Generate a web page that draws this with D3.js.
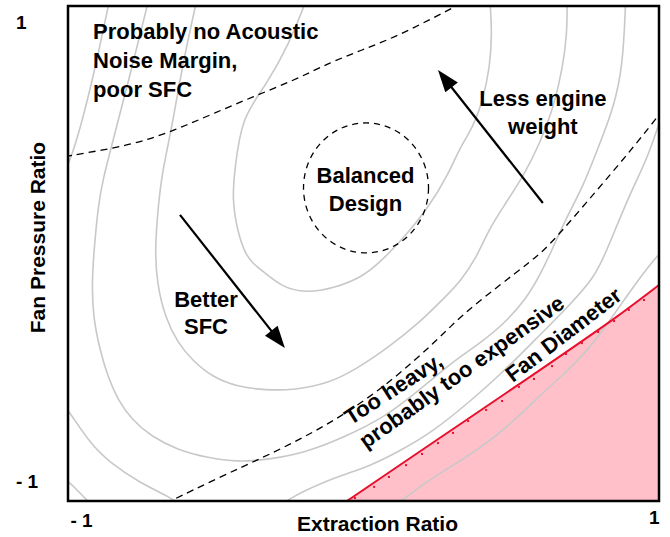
<!DOCTYPE html>
<html><head><meta charset="utf-8">
<script src="https://cdn.jsdelivr.net/npm/d3@7"></script>
<style>
body{margin:0;background:#fff}
svg{display:block}
text{font-family:"Liberation Sans",Arial,Helvetica,sans-serif;font-weight:bold;fill:#000}
</style>
</head><body><svg id="chart" width="670" height="537"></svg>
<script>
// ---------- data ----------
const xTickValues = [-1, 1];
const xTickLabels = ["- 1", "1"];
const yTickValues = [-1, 1];
const yTickLabels = ["- 1", "1"];
const xTitle = "Extraction Ratio";
const yTitle = "Fan Pressure Ratio";

// gray iso-lines (data coords)
const contour1 = [[0.428,1.02],[0.435,0.891],[0.428,0.754],[0.404,0.620],[0.371,0.511],[0.327,0.430],[0.289,0.325],[0.222,0.188],[0.130,0.055],[0.086,0.002],[0.052,-0.038],[-0.005,-0.095],[-0.096,-0.139],[-0.198,-0.160],[-0.276,-0.135],[-0.333,-0.079],[-0.377,-0.038],[-0.401,0.002],[-0.425,0.083],[-0.445,0.216],[-0.435,0.349],[-0.411,0.552],[-0.333,0.673],[-0.25,0.85],[-0.195,1.02]];
const contour2 = [[0.689,1.02],[0.689,0.891],[0.675,0.754],[0.641,0.580],[0.597,0.446],[0.540,0.309],[0.472,0.188],[0.418,0.083],[0.387,-0.006],[0.327,-0.115],[0.276,-0.176],[0.188,-0.281],[0.086,-0.378],[-0.029,-0.471],[-0.117,-0.523],[-0.232,-0.552],[-0.333,-0.552],[-0.425,-0.539],[-0.513,-0.499],[-0.580,-0.430],[-0.628,-0.362],[-0.672,-0.257],[-0.699,-0.119],[-0.706,0.014],[-0.695,0.188],[-0.682,0.325],[-0.648,0.511],[-0.614,0.754],[-0.565,1.02]];
const contour3 = [[0.887,1.02],[0.878,0.754],[0.844,0.580],[0.800,0.446],[0.743,0.269],[0.682,0.135],[0.638,0.014],[0.597,-0.087],[0.553,-0.180],[0.472,-0.289],[0.394,-0.362],[0.327,-0.418],[0.299,-0.442],[0.188,-0.552],[0.073,-0.661],[-0.063,-0.741],[-0.198,-0.806],[-0.333,-0.834],[-0.425,-0.842],[-0.526,-0.826],[-0.628,-0.794],[-0.716,-0.741],[-0.783,-0.673],[-0.831,-0.592],[-0.865,-0.499],[-0.892,-0.390],[-0.915,-0.257],[-0.919,-0.119],[-0.912,0.014],[-0.898,0.188],[-0.885,0.285],[-0.841,0.487],[-0.783,0.754],[-0.728,1.02]];
const contour4Top = [[-0.860,1.02],[-0.902,0.782],[-0.942,0.580],[-0.980,0.418],[-1.01,0.33]];
const contour4Left = [[-1.01,-0.62],[-0.993,-0.644],[-0.926,-0.766],[-0.858,-0.846],[-0.756,-0.927],[-0.655,-0.984],[-0.615,-1.02]];
const contour4Right = [[-0.28,-1.02],[-0.252,-0.988],[-0.096,-0.903],[0.015,-0.863],[0.130,-0.794],[0.242,-0.713],[0.354,-0.604],[0.469,-0.483],[0.580,-0.349],[0.692,-0.216],[0.783,-0.095],[0.824,0.014],[0.902,0.244],[0.959,0.378],[1.01,0.56]];
const contour5Corner = [[-1.01,-0.91],[-0.986,-0.935],[-0.925,-1.01]];
const contour5Right = [[0.105,-1.02],[0.208,-0.927],[0.276,-0.875],[0.387,-0.794],[0.503,-0.685],[0.591,-0.580],[0.682,-0.483],[0.760,-0.390],[0.827,-0.281],[0.875,-0.200],[0.953,-0.067],[1.01,0.01]];

// dashed boundaries
const noiseBoundary = [[-1.01,0.392],[-0.841,0.426],[-0.729,0.459],[-0.614,0.511],[-0.503,0.568],[-0.377,0.632],[-0.232,0.701],[-0.117,0.770],[-0.005,0.822],[0.107,0.875],[0.222,0.943],[0.330,1.01]];
const weightBoundary = [[-0.67,-1.01],[-0.486,-0.903],[-0.343,-0.826],[-0.198,-0.741],[-0.049,-0.640],[0.107,-0.503],[0.242,-0.358],[0.333,-0.248],[0.462,-0.127],[0.563,-0.034],[0.621,0.022],[0.733,0.176],[0.834,0.317],[0.919,0.438],[1.01,0.575]];

// fan diameter limit
const fanDiameter = [[-0.056,-1],[0.198,-0.794],[0.523,-0.531],[0.841,-0.269],[1,-0.127]];
const fanDots = [[-0.029,-0.988],[0.036,-0.943],[0.086,-0.903],[0.144,-0.855],[0.198,-0.810],[0.252,-0.766],[0.303,-0.725],[0.354,-0.677],[0.415,-0.632],[0.469,-0.596],[0.526,-0.539],[0.577,-0.507],[0.638,-0.455],[0.685,-0.406],[0.739,-0.362],[0.794,-0.317],[0.848,-0.273],[0.898,-0.228],[0.949,-0.188]];

// balanced design region (center, radii)
const balancedCenter = [0.0085, 0.265];
const balancedRadii = [0.2115, 0.2626];

// arrows [from, to]
const arrowBetterSFC = [[-0.621,0.156],[-0.266,-0.382]];
const arrowLessWeight = [[0.607,0.204],[0.252,0.741]];

// annotation texts: [text, x, y]
const noiseLabel = [["Probably no Acoustic",-0.915,0.867],["Noise Margin,",-0.915,0.749],["poor SFC",-0.915,0.632]];
const balancedLabel = [["Balanced",0.0068,0.285],["Design",0.0068,0.172]];
const weightLabel = [["Less engine",0.607,0.596],["weight",0.607,0.483]];
const sfcLabel = [["Better",-0.533,-0.216],["SFC",-0.533,-0.325]];
// rotated texts: [text, x, y, angle]
const slopeLabels = [["Too heavy,",0.115,-0.572,-33],["probably too expensive",0.347,-0.503,-35.5],["Fan Diameter",0.692,-0.352,-37.5]];

// ---------- drawing ----------
const svg = d3.select("#chart");
const L = 68, R = 659, T = 6, B = 501;
const x = d3.scaleLinear().domain([-1,1]).range([L,R]);
const y = d3.scaleLinear().domain([-1,1]).range([B,T]);

svg.append("defs").append("clipPath").attr("id","plotClip")
  .append("rect").attr("x",L).attr("y",T).attr("width",R-L).attr("height",B-T);
const plot = svg.append("g").attr("clip-path","url(#plotClip)");

const fanCurve = d3.curveCatmullRom.alpha(0.5);
const smooth = d3.line().x(d=>x(d[0])).y(d=>y(d[1])).curve(d3.curveBasis);
const fanLine = d3.line().x(d=>x(d[0])).y(d=>y(d[1])).curve(fanCurve);

// pink infeasible region
plot.append("path")
  .datum(fanDiameter)
  .attr("d", d3.area().x(d=>x(d[0])).y0(y(-1)).y1(d=>y(d[1])).curve(fanCurve))
  .attr("fill","#ffc0ca");

// contours
[contour1,contour2,contour3,contour4Top,contour4Left,contour4Right,contour5Corner,contour5Right].forEach(c=>{
  plot.append("path").datum(c).attr("d",smooth)
    .attr("fill","none").attr("stroke","#c8c8c8").attr("stroke-width",1.6);
});

// red fan diameter line
plot.append("path").datum(fanDiameter).attr("d",fanLine)
  .attr("fill","none").attr("stroke","#e8102e").attr("stroke-width",2);
plot.selectAll(".fdot").data(fanDots).join("rect").attr("class","fdot")
  .attr("x",d=>x(d[0])-1).attr("y",d=>y(d[1])-1).attr("width",2).attr("height",2)
  .attr("fill","#e8102e");

// dashed boundaries
[noiseBoundary, weightBoundary].forEach(c=>{
  plot.append("path").datum(c).attr("d",smooth)
    .attr("fill","none").attr("stroke","#000").attr("stroke-width",1.3)
    .attr("stroke-dasharray","7,5");
});

// balanced design circle
const cx = x(balancedCenter[0]), cy = y(balancedCenter[1]);
plot.append("ellipse").attr("cx",cx).attr("cy",cy)
  .attr("rx", x(balancedCenter[0]+balancedRadii[0]) - cx)
  .attr("ry", cy - y(balancedCenter[1]+balancedRadii[1]))
  .attr("fill","none").attr("stroke","#000").attr("stroke-width",1.3)
  .attr("stroke-dasharray","6,5");

// arrows
function arrow(a){
  const x0=x(a[0][0]), y0=y(a[0][1]), x1=x(a[1][0]), y1=y(a[1][1]);
  const ang=Math.atan2(y1-y0,x1-x0), len=22, hw=8;
  const bx=x1-len*Math.cos(ang), by=y1-len*Math.sin(ang);
  svg.append("line").attr("x1",x0).attr("y1",y0).attr("x2",bx+4*Math.cos(ang)).attr("y2",by+4*Math.sin(ang))
    .attr("stroke","#000").attr("stroke-width",2.2);
  const px=-Math.sin(ang), py=Math.cos(ang);
  svg.append("path").attr("d",`M${x1},${y1}L${bx+hw*px},${by+hw*py}L${bx-hw*px},${by-hw*py}Z`).attr("fill","#000");
}
arrow(arrowBetterSFC);
arrow(arrowLessWeight);

// labels
function block(arr, anchor){
  arr.forEach(d=>{
    svg.append("text").attr("x",x(d[1])).attr("y",y(d[2])).attr("text-anchor",anchor)
      .style("font-size","22px").text(d[0]);
  });
}
block(noiseLabel,"start");
block(balancedLabel,"middle");
block(weightLabel,"middle");
block(sfcLabel,"middle");
slopeLabels.forEach(d=>{
  svg.append("text").attr("transform",`translate(${x(d[1])},${y(d[2])}) rotate(${d[3]})`)
    .attr("text-anchor","middle").style("font-size","22px").text(d[0]);
});

// frame
svg.append("rect").attr("x",L).attr("y",T).attr("width",R-L).attr("height",B-T)
  .attr("fill","none").attr("stroke","#000").attr("stroke-width",2.5);

// axes (tick labels only)
const xAxis = d3.axisBottom(x).tickValues(xTickValues).tickSize(0).tickPadding(0)
  .tickFormat((d,i)=>xTickLabels[i]);
const gx = svg.append("g").attr("transform",`translate(0,${B})`).call(xAxis);
gx.select(".domain").remove();
gx.selectAll("text").style("font-size","19px").attr("fill","#000")
  .attr("dy",null).attr("y",d=>d<0?26:23)
  .attr("text-anchor",d=>d<0?"start":"end")
  .attr("dx",d=>d<0?2:0);

const yAxis = d3.axisLeft(y).tickValues(yTickValues).tickSize(0).tickPadding(0)
  .tickFormat((d,i)=>yTickLabels[i]);
const gy = svg.append("g").attr("transform",`translate(${L},0)`).call(yAxis);
gy.select(".domain").remove();
gy.selectAll("text").style("font-size","19px").attr("fill","#000")
  .attr("text-anchor","start").attr("x",-52).attr("dy",null)
  .attr("y",d=>d<0?-14:22);

// titles
svg.append("text").attr("x",(L+R)/2+14).attr("y",531).attr("text-anchor","middle")
  .style("font-size","21px").text(xTitle);
svg.append("text").attr("transform",`translate(45,${(T+B)/2-16}) rotate(-90)`)
  .attr("text-anchor","middle").style("font-size","21px").text(yTitle);
</script>
</body></html>
